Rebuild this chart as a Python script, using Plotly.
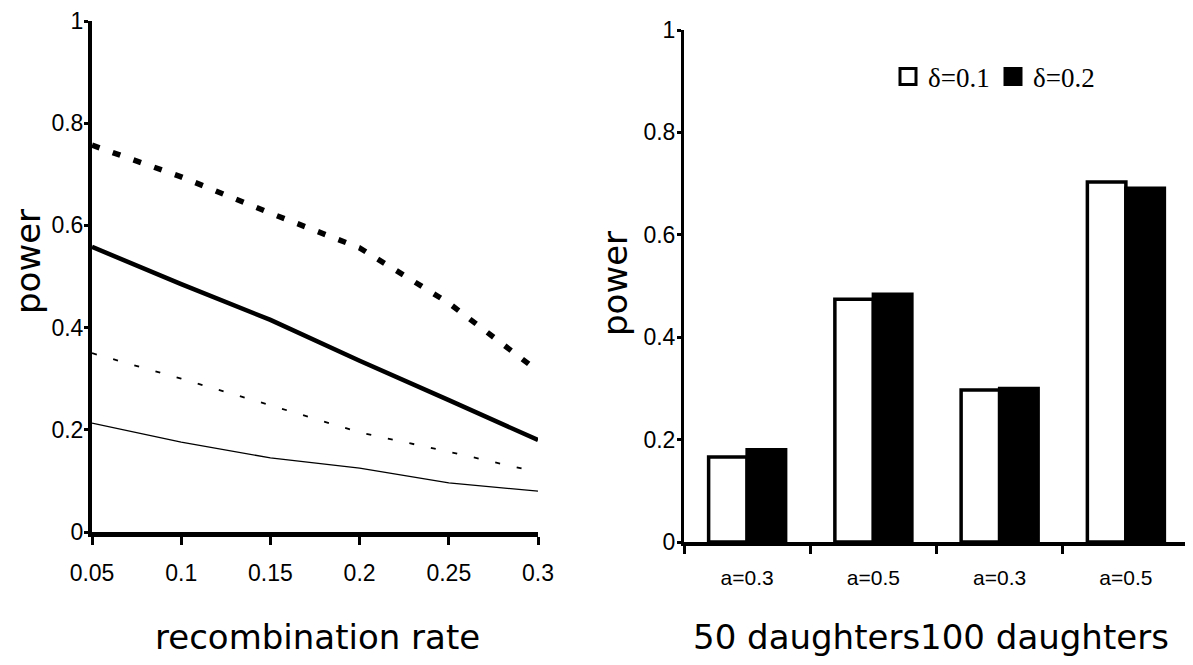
import plotly.graph_objects as go

# ---------------- data ----------------
recomb_rate = [0.05, 0.10, 0.15, 0.20, 0.25, 0.30]
thick_dashed = [0.757, 0.695, 0.624, 0.556, 0.448, 0.315]
thick_solid = [0.558, 0.485, 0.415, 0.335, 0.258, 0.180]
thin_dashed = [0.350, 0.300, 0.248, 0.195, 0.157, 0.117]
thin_solid = [0.213, 0.176, 0.145, 0.125, 0.096, 0.080]

bar_categories = ["a=0.3", "a=0.5", "a=0.3 ", "a=0.5 "]
bar_labels = ["a=0.3", "a=0.5", "a=0.3", "a=0.5"]
delta_01 = [0.166, 0.474, 0.297, 0.703]
delta_02 = [0.180, 0.484, 0.300, 0.691]

left_xticks = [0.05, 0.1, 0.15, 0.2, 0.25, 0.3]
left_xticklabels = ["0.05", "0.1", "0.15", "0.2", "0.25", "0.3"]
y_ticks = [0, 0.2, 0.4, 0.6, 0.8, 1]
y_ticklabels = ["0", "0.2", "0.4", "0.6", "0.8", "1"]

W, H = 1193, 665
OX, OY = 7, 8  # page body offset


def px(x):
    return (x - OX) / W


def py(y):
    return (H - (y - OY)) / H


NARROW = "Liberation Sans Narrow, Arial Narrow, Liberation Sans, Arial"
TICKFONT = dict(family=NARROW, size=23, color="black")
TITLEFONT = dict(family="DejaVu Sans, Liberation Sans, Arial", size=34, color="black")

fig = go.Figure()

# ---------------- left: line chart ----------------
fig.add_trace(go.Scatter(x=recomb_rate, y=thick_dashed, mode="lines",
                         line=dict(color="black", width=5.5, dash="8px,14px"),
                         xaxis="x", yaxis="y", showlegend=False))
fig.add_trace(go.Scatter(x=recomb_rate, y=thick_solid, mode="lines",
                         line=dict(color="black", width=4.5),
                         xaxis="x", yaxis="y", showlegend=False))
fig.add_trace(go.Scatter(x=recomb_rate, y=thin_dashed, mode="lines",
                         line=dict(color="black", width=1.8, dash="5px,17px"),
                         xaxis="x", yaxis="y", showlegend=False))
fig.add_trace(go.Scatter(x=recomb_rate, y=thin_solid, mode="lines",
                         line=dict(color="black", width=1.3),
                         xaxis="x", yaxis="y", showlegend=False))

# ---------------- right: bar chart ----------------
fig.add_trace(go.Bar(x=bar_categories, y=delta_01, name="δ=0.1",
                     marker=dict(color="white", line=dict(color="black", width=3.5)),
                     xaxis="x2", yaxis="y2", showlegend=False))
fig.add_trace(go.Bar(x=bar_categories, y=delta_02, name="δ=0.2",
                     marker=dict(color="black", line=dict(color="black", width=3.5)),
                     xaxis="x2", yaxis="y2", showlegend=False))

# legend proxies (square markers)
fig.add_trace(go.Scatter(x=[None], y=[None], mode="markers", name="δ=0.1",
                         marker=dict(symbol="square", size=19, color="white",
                                     line=dict(color="black", width=3)),
                         xaxis="x2", yaxis="y2"))
fig.add_trace(go.Scatter(x=[None], y=[None], mode="markers", name="δ=0.2",
                         marker=dict(symbol="square", size=19, color="black",
                                     line=dict(color="black", width=3)),
                         xaxis="x2", yaxis="y2"))

fig.update_layout(
    width=W, height=H,
    margin=dict(l=0, r=0, t=0, b=0, autoexpand=False),
    paper_bgcolor="white", plot_bgcolor="white",
    barmode="group", bargap=0.39, bargroupgap=0,
    legend=dict(orientation="h", x=px(887), y=py(77), xanchor="left", yanchor="middle",
                font=dict(family="Liberation Serif, Times New Roman, serif", size=27, color="black"),
                itemwidth=30, entrywidth=60, entrywidthmode="pixels",
                tracegroupgap=0, bgcolor="rgba(0,0,0,0)",
                itemclick=False, itemdoubleclick=False),
    xaxis=dict(domain=[px(91), px(537)], range=[0.05, 0.3], anchor="y", automargin=False,
               tickmode="array", tickvals=left_xticks, ticktext=left_xticklabels,
               showgrid=False, zeroline=False, showline=True, linecolor="black", linewidth=5,
               ticks="outside", ticklen=8, tickwidth=3, tickcolor="black",
               ticklabelstandoff=8, tickfont=TICKFONT),
    yaxis=dict(domain=[py(532), py(21)], range=[0, 1], anchor="x", automargin=False,
               tickmode="array", tickvals=y_ticks, ticktext=y_ticklabels,
               showgrid=False, zeroline=False, showline=True, linecolor="black", linewidth=4,
               ticks="outside", ticklen=4, tickwidth=3, tickcolor="black",
               ticklabelstandoff=-4, tickfont=TICKFONT),
    xaxis2=dict(domain=[px(683), px(1188)], range=[-0.5, 3.5], anchor="y2", type="category",
                automargin=False,
                tickmode="array", tickvals=bar_categories, ticktext=bar_labels,
                tickson="boundaries",
                showgrid=False, zeroline=False, showline=True, linecolor="black", linewidth=4,
                ticks="outside", ticklen=8, tickwidth=3, tickcolor="black",
                ticklabelstandoff=14,
                tickfont=dict(family=NARROW, size=21, color="black")),
    yaxis2=dict(domain=[py(542), py(30)], range=[0, 1], anchor="x2", automargin=False,
                tickmode="array", tickvals=y_ticks, ticktext=y_ticklabels,
                showgrid=False, zeroline=False, showline=True, linecolor="black", linewidth=3,
                ticks="outside", ticklen=4, tickwidth=3, tickcolor="black",
                ticklabelstandoff=-3, tickfont=TICKFONT),
    annotations=[
        dict(text="power", xref="paper", yref="paper", x=px(27), y=py(262),
             textangle=-90, showarrow=False, font=TITLEFONT, xanchor="center", yanchor="middle"),
        dict(text="power", xref="paper", yref="paper", x=px(614), y=py(284),
             textangle=-90, showarrow=False, font=TITLEFONT, xanchor="center", yanchor="middle"),
        dict(text="recombination rate", xref="paper", yref="paper", x=px(316), y=py(637),
             showarrow=False, font=TITLEFONT, xanchor="center", yanchor="middle"),
        dict(text="50 daughters100 daughters", xref="paper", yref="paper", x=px(930), y=py(637),
             showarrow=False, font=TITLEFONT, xanchor="center", yanchor="middle"),
    ],
)

fig.write_html("out.html")
